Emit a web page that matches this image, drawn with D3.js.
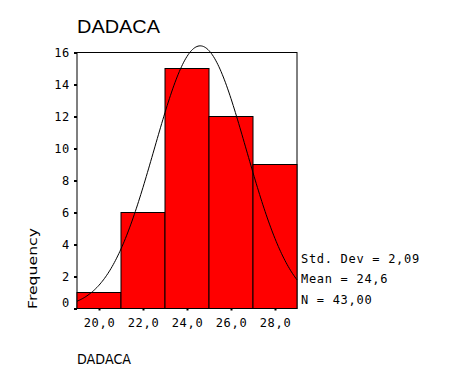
<!DOCTYPE html>
<html>
<head>
<meta charset="utf-8">
<script src="https://cdn.jsdelivr.net/npm/d3@7"></script>
<style>
  body { margin: 0; background: #fff; }
  svg { display: block; }
  .mono { font-family: "DejaVu Sans Mono", monospace; font-size: 12px; letter-spacing: 0.7px; fill: #000; }
</style>
</head>
<body>
<div class="chart"></div>
<script>
// histogram data
const binMids = [20, 22, 24, 26, 28];
const counts = [1, 6, 15, 12, 9];
const binWidth = 2;
const yTicks = [0, 2, 4, 6, 8, 10, 12, 14, 16];
const xTicks = [20, 22, 24, 26, 28];
const statLines = ["Std. Dev = 2,09", "Mean = 24,6", "N = 43,00"];
// stats used for the normal curve
const mean = 24.6, sd = 2.09, n = 43;

const W = 472, H = 377;
const frame = { left: 77, top: 52.5, right: 297, bottom: 308.5 };

const svg = d3.select(".chart").append("svg")
  .attr("width", W).attr("height", H);

const x = d3.scaleLinear().domain([19, 29]).range([frame.left, frame.right]);
const y = d3.scaleLinear().domain([0, 16]).range([frame.bottom, frame.top]);

// title
svg.append("text")
  .attr("x", 77).attr("y", 33)
  .attr("textLength", 83).attr("lengthAdjust", "spacingAndGlyphs")
  .style("font-family", "Liberation Sans, Arial, sans-serif")
  .style("font-size", "17.5px")
  .text("DADACA");

// frame
svg.append("rect")
  .attr("x", frame.left).attr("y", frame.top)
  .attr("width", frame.right - frame.left)
  .attr("height", frame.bottom - frame.top)
  .attr("fill", "none").attr("stroke", "#000").attr("stroke-width", 1);

// bars
svg.selectAll(".bar").data(binMids)
  .join("rect")
  .attr("class", "bar")
  .attr("x", (d) => x(d - binWidth / 2))
  .attr("y", (d, i) => y(counts[i]))
  .attr("width", (d) => x(d + binWidth / 2) - x(d - binWidth / 2))
  .attr("height", (d, i) => y(0) - y(counts[i]))
  .attr("fill", "#ff0000")
  .attr("stroke", "#000").attr("stroke-width", 1);

// normal curve
const steps = d3.range(0, 201).map((i) => 19 + i * 10 / 200);
const normal = (v) => n * binWidth / (sd * Math.sqrt(2 * Math.PI)) *
  Math.exp(-0.5 * Math.pow((v - mean) / sd, 2));
svg.append("path")
  .datum(steps)
  .attr("fill", "none").attr("stroke", "#000").attr("stroke-width", 1)
  .attr("d", d3.line().x((d) => x(d)).y((d) => y(normal(d))));

// y axis
const yAxisG = svg.append("g")
  .attr("transform", "translate(" + frame.left + ",0)")
  .call(d3.axisLeft(y).tickValues(yTicks).tickSize(3).tickPadding(4).tickFormat(d3.format("d")));
yAxisG.select(".domain").remove();
yAxisG.selectAll(".tick line").attr("stroke-width", 2);
yAxisG.selectAll(".tick text").attr("class", "mono")
  .style("letter-spacing", "0.7px")
  .attr("dy", (d) => d === 0 ? "-0.15em" : "0.32em");

// x axis
const xAxisG = svg.append("g")
  .attr("transform", "translate(0," + frame.bottom + ")")
  .call(d3.axisBottom(x).tickValues(xTicks).tickSize(2).tickPadding(8)
    .tickFormat((d) => d.toFixed(1).replace(".", ",")));
xAxisG.select(".domain").remove();
xAxisG.selectAll(".tick line").attr("stroke-width", 2);
xAxisG.selectAll(".tick text").attr("class", "mono");

// axis titles
svg.append("text")
  .attr("transform", "translate(37,268.5) rotate(-90)")
  .attr("text-anchor", "middle")
  .attr("textLength", 81).attr("lengthAdjust", "spacingAndGlyphs")
  .style("font-family", "DejaVu Sans, sans-serif")
  .style("font-size", "13px")
  .text("Frequency");

svg.append("text")
  .attr("x", 77).attr("y", 363.5)
  .attr("textLength", 54).attr("lengthAdjust", "spacingAndGlyphs")
  .style("font-family", "DejaVu Sans, sans-serif")
  .style("font-size", "13.5px")
  .text("DADACA");

// stats
svg.selectAll(".stat").data(statLines)
  .join("text")
  .attr("class", "stat mono")
  .attr("x", 301)
  .attr("y", (d, i) => 262.5 + i * 20.5)
  .text((d) => d);
</script>
</body>
</html>
